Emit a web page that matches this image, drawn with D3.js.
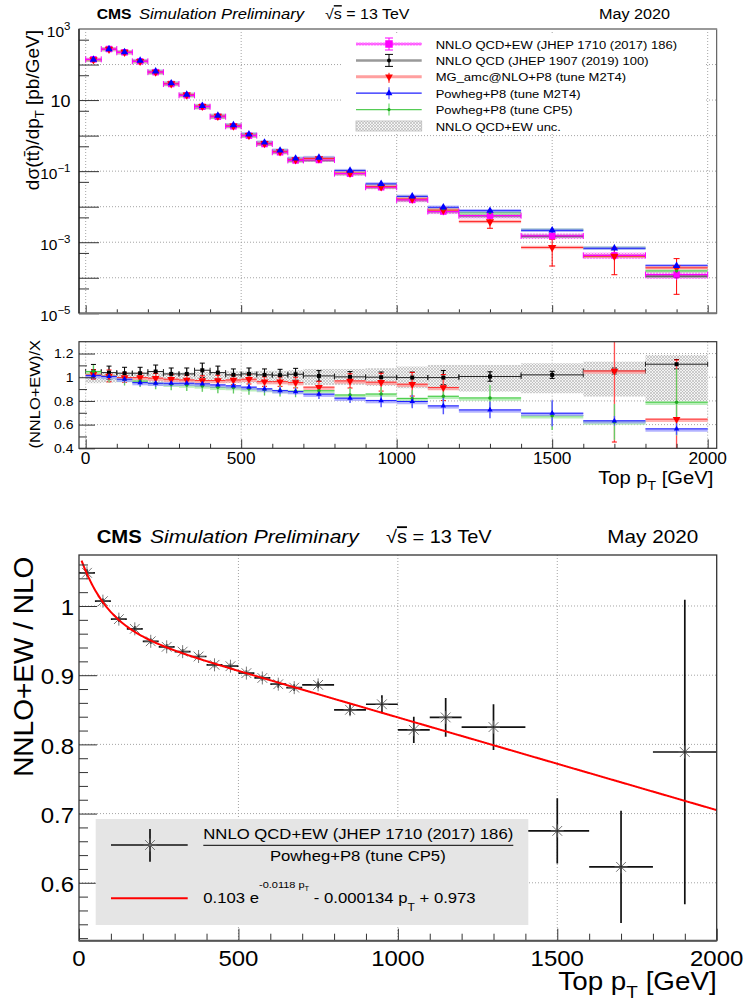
<!DOCTYPE html>
<html><head><meta charset="utf-8">
<script src="https://cdn.jsdelivr.net/npm/d3@7"></script>
<style>
body{margin:0;background:#fff}
svg{display:block}
text{font-family:"Liberation Sans",Arial,Helvetica,sans-serif;white-space:pre}
</style>
</head><body>
<svg id="c" width="746" height="1008"></svg>
<script>
// ---------------- DATA ----------------
const binEdges = [0,50,100,150,200,250,300,350,400,450,500,550,600,650,700,800,900,1000,1100,1200,1400,1600,1800,2000];
// dsigma/dpT [pb/GeV]
const nnloEW  = [140, 273, 221, 123, 61, 28.3, 13.6, 6.5, 3.4, 1.83, 1.0, 0.58, 0.34, 0.20, 0.206, 0.085, 0.0352, 0.0155, 0.0073, 0.00559, 0.0015, 0.000427, 0.000123];
const nnloQCD = [133.6, 262.8, 213.7, 119, 58.2, 27.5, 13.23, 6.14, 3.27, 1.794, 0.973, 0.569, 0.334, 0.195, 0.204, 0.0847, 0.0352, 0.01555, 0.00732, 0.00556, 0.00147, 0.000406, 0.000111];
const mgM2T4  = [136.6, 270, 221.7, 123.4, 61.5, 28.8, 13.92, 6.69, 3.5, 1.873, 1.017, 0.602, 0.353, 0.2094, 0.2249, 0.0877, 0.03674, 0.01647, 0.008, 0.0038, 0.000714, 0.000406, 0.00019];
const powM2T4 = [138.1, 271.4, 224.8, 128.8, 64.3, 29.8, 14.33, 6.89, 3.64, 1.974, 1.092, 0.643, 0.383, 0.2275, 0.2404, 0.1033, 0.0438, 0.0195, 0.00963, 0.00772, 0.00216, 0.000676, 0.000218];
const powCP5  = [133.6, 271.1, 225.3, 127.2, 64.3, 30.1, 14.56, 7.01, 3.72, 2.004, 1.107, 0.647, 0.383, 0.2268, 0.2325, 0.1, 0.041, 0.01888, 0.0087, 0.00678, 0.00222, 0.000685, 0.000156];
const topErrMG = [0.03,0.03,0.03,0.03,0.03,0.03,0.03,0.03,0.03,0.03,0.03,0.04,0.04,0.04,0.05,0.05,0.08,0.1,0.1,0.35,0.7,0.7,0.82];
// NNLO QCD+EW uncertainty (relative, up / down)
const uncUp = [0.048,0.045,0.04,0.04,0.04,0.04,0.04,0.045,0.045,0.05,0.05,0.055,0.055,0.06,0.07,0.07,0.076,0.09,0.104,0.104,0.118,0.132,0.188];
const uncDn = [0.05,0.045,0.04,0.04,0.04,0.04,0.04,0.045,0.045,0.05,0.05,0.055,0.055,0.06,0.065,0.065,0.073,0.093,0.107,0.121,0.135,0.163,0.205];
// ratios (NNLO+EW)/X
const ratioQCD  = [1.048,1.039,1.034,1.034,1.048,1.028,1.028,1.059,1.039,1.02,1.028,1.02,1.017,1.025,1.011,1.003,1.0,0.997,0.997,1.006,1.02,1.053,1.11];
const ratioMG   = [1.025,1.011,0.997,0.997,0.992,0.983,0.977,0.972,0.972,0.977,0.983,0.963,0.963,0.955,0.916,0.969,0.958,0.941,0.913,1.47,2.1,1.053,0.646];
const ratioM2T4 = [1.014,1.006,0.983,0.955,0.949,0.949,0.949,0.944,0.935,0.927,0.916,0.902,0.887,0.879,0.857,0.823,0.803,0.795,0.758,0.724,0.696,0.632,0.564];
const ratioCP5  = [1.048,1.007,0.981,0.967,0.949,0.941,0.934,0.927,0.915,0.913,0.903,0.896,0.887,0.882,0.886,0.850,0.858,0.821,0.839,0.825,0.675,0.623,0.789];
const errQCD  = [0.06,0.055,0.05,0.05,0.055,0.05,0.05,0.06,0.055,0.05,0.05,0.05,0.05,0.05,0.045,0.045,0.044,0.046,0.06,0.04,0.03,0.025,0.04];
const errMG   = [0.04,0.05,0.04,0.04,0.04,0.04,0.04,0.04,0.045,0.04,0.04,0.04,0.04,0.045,0.05,0.06,0.075,0.1,0.11,0.15,0.6,0.6,0.5];
const errM2T4 = [0.03,0.03,0.03,0.03,0.03,0.03,0.03,0.03,0.03,0.03,0.03,0.03,0.03,0.03,0.04,0.04,0.056,0.056,0.07,0.07,0.11,0.04,0.05];
const errCP5  = [0.055,0.05,0.05,0.05,0.05,0.05,0.05,0.05,0.05,0.05,0.05,0.05,0.05,0.05,0.05,0.06,0.06,0.07,0.08,0.11,0.12,0.15,0.28];
// bottom panel: NNLO QCD+EW / Powheg+P8 (CP5) uses ratioCP5 with these errors
const errBottom = [0.005,0.004,0.004,0.004,0.004,0.004,0.004,0.004,0.004,0.004,0.004,0.004,0.005,0.005,0.005,0.008,0.013,0.019,0.028,0.033,0.047,0.081,0.22];
// fit: A*exp(B*pT) + C*pT + D
const fitA = 0.103, fitB = -0.0118, fitC = -0.000134, fitD = 0.973;
// ticks
const xTickVals = [0,500,1000,1500,2000];
const xTickLabels = ["0","500","1000","1500","2000"];
const topYTickVals = [1e3,10,1e-1,1e-3,1e-5];
const topYTickLabels = [["10","3"],["10",null],["10","\u22121"],["10","\u22123"],["10","\u22125"]];
const ratioYTickVals = [0.4,0.6,0.8,1,1.2];
const ratioYTickLabels = ["0.4","0.6","0.8","1","1.2"];
const botYTickVals = [0.6,0.7,0.8,0.9,1];
const botYTickLabels = ["0.6","0.7","0.8","0.9","1"];
const legendTop = ["NNLO QCD+EW (JHEP 1710 (2017) 186)","NNLO QCD (JHEP 1907 (2019) 100)","MG_amc@NLO+P8 (tune M2T4)","Powheg+P8 (tune M2T4)","Powheg+P8 (tune CP5)","NNLO QCD+EW unc."];

// ---------------- LAYOUT ----------------
const svg = d3.select("#c");
const defs = svg.append("defs");
const F1 = {x0:79, x1:716.7, y0:29, y1:313.3};
const F2 = {x0:79, x1:716.7, y0:341.7, y1:448.3};
const F3 = {x0:79, x1:716.7, y0:555, y1:940.7};

const xTop = d3.scaleLinear().domain([-21.5, 2029]).range([F1.x0, F1.x1]);
const yTop = d3.scaleLog().domain([1e-5, 1e3]).range([F1.y1, F1.y0]);
const yRat = d3.scaleLinear().domain([0.4, 1.3]).range([F2.y1, F2.y0]);
const xBot = d3.scaleLinear().domain([0, 2000]).range([F3.x0, F3.x1]);
const yBot = d3.scaleLinear().domain([0.5163, 1.0737]).range([F3.y1, F3.y0]);

function clip(id, f){ defs.append("clipPath").attr("id",id).append("rect").attr("x",f.x0).attr("y",f.y0).attr("width",f.x1-f.x0).attr("height",f.y1-f.y0); }
clip("c1",F1); clip("c2",F2); clip("c3",F3);

function hatch(id, bg, fg){
  const p = defs.append("pattern").attr("id",id).attr("width",3).attr("height",3).attr("patternUnits","userSpaceOnUse");
  p.append("rect").attr("width",3).attr("height",3).attr("fill",bg);
  p.append("path").attr("d","M0,3L3,0M0,0L3,3").attr("stroke",fg).attr("stroke-width",0.6);
}
hatch("hgray","#f4f4f4","#b0b0b0");
hatch("hmag","#ffd0ff","#ff55ff");

function txt(g, x, y, parts, o={}){
  const t = g.append("text")
    .attr("transform", `translate(${x},${y})` + (o.rot ? ` rotate(${o.rot})` : "") + ` scale(1,${o.sy ?? 0.9})`)
    .attr("font-size", o.size || 14).attr("text-anchor", o.anchor || "start")
    .attr("font-weight", o.weight || "normal").attr("font-style", o.style || "normal")
    .attr("fill", o.fill || "#000");
  if (typeof parts === "string") parts = [{s:parts}];
  let prev = 0;
  parts.forEach(p => {
    const sh = p.shift || 0;
    const ts = t.append("tspan").text(p.s).attr("dy", sh - prev);
    if (p.size) ts.attr("font-size", p.size);
    if (p.over) ts.style("text-decoration","overline");
    prev = sh;
  });
  return t;
}
function grid(g, f, xs, ys, xsc, ysc){
  xs.forEach(v => g.append("line").attr("x1",xsc(v)).attr("x2",xsc(v)).attr("y1",f.y0).attr("y2",f.y1));
  ys.forEach(v => g.append("line").attr("x1",f.x0).attr("x2",f.x1).attr("y1",ysc(v)).attr("y2",ysc(v)));
  g.attr("stroke","#9a9a9a").attr("stroke-width",0.9).attr("stroke-dasharray","1,2");
}
function tickAxis(sel, axis){
  sel.call(axis);
  sel.select(".domain").remove();
  sel.selectAll(".tick text").remove();
  sel.selectAll(".tick line").attr("stroke","#333").attr("stroke-width",1);
}
const nb = nnloEW.length;
const bins = d3.range(nb).map(i => ({i, x0:binEdges[i], x1:binEdges[i+1], xc:(binEdges[i]+binEdges[i+1])/2}));
const tri = d3.symbol().type(d3.symbolTriangle);
function mk(g, type, x, y, s, col){
  if (type==="square" || type==="dot") g.append("rect").attr("x",x-s/2).attr("y",y-s/2).attr("width",s).attr("height",s).attr("fill",col);
  else if (type==="small") g.append("circle").attr("cx",x).attr("cy",y).attr("r",s).attr("fill",col);
  else if (type==="tup") g.append("path").attr("d",tri.size(s)()).attr("transform",`translate(${x},${y})`).attr("fill",col);
  else if (type==="tdown") g.append("path").attr("d",tri.size(s)()).attr("transform",`translate(${x},${y}) rotate(180)`).attr("fill",col);
}

// ================= TOP PANEL =================
svg.append("rect").attr("x",0).attr("y",0).attr("width",746).attr("height",1008).attr("fill","#fff");
grid(svg.append("g"), F1, xTickVals, [1e-4,1e-3,1e-2,1e-1,1,10,100], xTop, yTop);

const g1 = svg.append("g").attr("clip-path","url(#c1)");
const topSeries = [
  {vals:nnloQCD, rel:bins.map(b=>errQCD[b.i]/ratioQCD[b.i]), line:"#444", band:"#9a9a9a", mkT:"dot", mkS:4, col:"#000", caps:true},
  {vals:powCP5,  rel:bins.map(b=>errCP5[b.i]/ratioCP5[b.i]), line:"#44cc44", band:"#a8eaa8", mkT:"small", mkS:1.6, col:"#22aa22"},
  {vals:powM2T4, rel:bins.map(b=>errM2T4[b.i]/ratioM2T4[b.i]), line:"#2020ff", band:"#a0a0ff", mkT:"tup", mkS:24, col:"#0000ff"},
  {vals:mgM2T4,  rel:topErrMG, line:"#ff2020", band:"#ff9f9f", mkT:"tdown", mkS:30, col:"#ff0000", caps:true},
];
bins.forEach(b => {
  const v = nnloEW[b.i];
  g1.append("rect").attr("x",xTop(b.x0)).attr("width",xTop(b.x1)-xTop(b.x0))
    .attr("y",yTop(v*(1+uncUp[b.i]))-0.8).attr("height",yTop(v*(1-uncDn[b.i]))-yTop(v*(1+uncUp[b.i]))+1.6)
    .attr("fill","url(#hmag)");
});
topSeries.forEach(s => {
  bins.forEach(b => {
    const y = yTop(s.vals[b.i]);
    g1.append("line").attr("x1",xTop(b.x0)).attr("x2",xTop(b.x1)).attr("y1",y).attr("y2",y).attr("stroke",s.band).attr("stroke-width",3.5).attr("opacity",0.7);
    g1.append("line").attr("x1",xTop(b.x0)).attr("x2",xTop(b.x1)).attr("y1",y).attr("y2",y).attr("stroke",s.line).attr("stroke-width",1);
  });
});
bins.forEach(b => {
  const y = yTop(nnloEW[b.i]);
  g1.append("line").attr("x1",xTop(b.x0)).attr("x2",xTop(b.x1)).attr("y1",y).attr("y2",y).attr("stroke","#ff00ff").attr("stroke-width",1.2);
  [b.x0,b.x1].forEach(e => g1.append("line").attr("x1",xTop(e)).attr("x2",xTop(e)).attr("y1",y-3).attr("y2",y+3).attr("stroke","#ff00ff").attr("stroke-width",1));
});
topSeries.forEach(s => {
  bins.forEach(b => {
    const v = s.vals[b.i], x = xTop(b.xc);
    const ya = yTop(v*(1+s.rel[b.i])), yb = yTop(v*(1-s.rel[b.i]));
    g1.append("line").attr("x1",x).attr("x2",x).attr("y1",ya).attr("y2",yb).attr("stroke",s.col).attr("stroke-width",1);
    if (s.caps) [ya,yb].forEach(yy => g1.append("line").attr("x1",x-3).attr("x2",x+3).attr("y1",yy).attr("y2",yy).attr("stroke",s.col).attr("stroke-width",1));
  });
});
bins.forEach(b => {
  const v = nnloEW[b.i], x = xTop(b.xc);
  const ya = yTop(v*(1+uncUp[b.i])), yb = yTop(v*(1-uncDn[b.i]));
  g1.append("line").attr("x1",x).attr("x2",x).attr("y1",ya-2).attr("y2",yb+2).attr("stroke","#ff00ff").attr("stroke-width",1);
});
const mkOrder = [topSeries[0], null, topSeries[3], topSeries[1], topSeries[2]];
mkOrder.forEach(s => {
  bins.forEach(b => {
    const x = xTop(b.xc);
    if (s === null) mk(g1, "square", x, yTop(nnloEW[b.i]), 6.5, "#ff00ff");
    else mk(g1, s.mkT, x, yTop(s.vals[b.i]), s.mkS, s.col);
  });
});

// legend
const lg = svg.append("g");
lg.append("rect").attr("x",342).attr("y",33).attr("width",363).attr("height",101).attr("fill","#fff");
const rows = [44, 60.4, 76.8, 93.2, 109.6, 126];
const lx0 = 356, lx1 = 421.7, lmx = 389;
lg.append("rect").attr("x",lx0).attr("y",rows[0]-2).attr("width",lx1-lx0).attr("height",4).attr("fill","url(#hmag)").attr("opacity",0.6);
lg.append("line").attr("x1",lx0).attr("x2",lx1).attr("y1",rows[0]).attr("y2",rows[0]).attr("stroke","#ff00ff").attr("stroke-width",1.2);
lg.append("line").attr("x1",lmx).attr("x2",lmx).attr("y1",rows[0]-6).attr("y2",rows[0]+6).attr("stroke","#ff00ff");
[rows[0]-6,rows[0]+6].forEach(yy=>lg.append("line").attr("x1",lmx-4).attr("x2",lmx+4).attr("y1",yy).attr("y2",yy).attr("stroke","#ff00ff"));
mk(lg,"square",lmx,rows[0],7.5,"#ff00ff");
lg.append("line").attr("x1",lx0).attr("x2",lx1).attr("y1",rows[1]).attr("y2",rows[1]).attr("stroke","#999").attr("stroke-width",2.5);
lg.append("line").attr("x1",lmx).attr("x2",lmx).attr("y1",rows[1]-6).attr("y2",rows[1]+6).attr("stroke","#000");
[rows[1]-6,rows[1]+6].forEach(yy=>lg.append("line").attr("x1",lmx-4).attr("x2",lmx+4).attr("y1",yy).attr("y2",yy).attr("stroke","#000"));
mk(lg,"small",lmx,rows[1],2,"#000");
lg.append("line").attr("x1",lx0).attr("x2",lx1).attr("y1",rows[2]).attr("y2",rows[2]).attr("stroke","#ff9f9f").attr("stroke-width",3);
lg.append("line").attr("x1",lmx).attr("x2",lmx).attr("y1",rows[2]-4).attr("y2",rows[2]+6).attr("stroke","#ff0000");
mk(lg,"tdown",lmx,rows[2],26,"#ff0000");
lg.append("line").attr("x1",lx0).attr("x2",lx1).attr("y1",rows[3]).attr("y2",rows[3]).attr("stroke","#2020ff").attr("stroke-width",1.2);
lg.append("line").attr("x1",lmx).attr("x2",lmx).attr("y1",rows[3]-6).attr("y2",rows[3]+6).attr("stroke","#9999ff").attr("stroke-width",2);
mk(lg,"tup",lmx,rows[3],20,"#0000ff");
lg.append("line").attr("x1",lx0).attr("x2",lx1).attr("y1",rows[4]).attr("y2",rows[4]).attr("stroke","#55cc55").attr("stroke-width",1.2);
lg.append("line").attr("x1",lmx).attr("x2",lmx).attr("y1",rows[4]-6).attr("y2",rows[4]+6).attr("stroke","#a8eaa8").attr("stroke-width",2);
mk(lg,"small",lmx,rows[4],1.6,"#22aa22");
lg.append("rect").attr("x",lx0).attr("y",rows[5]-5).attr("width",lx1-lx0).attr("height",10).attr("fill","url(#hgray)").attr("stroke","#bbb").attr("stroke-width",0.8);
legendTop.forEach((t,i) => txt(lg, 435.7, rows[i]+4.6, t, {size:13}));

tickAxis(svg.append("g").attr("transform",`translate(0,${F1.y1})`), d3.axisBottom(xTop).tickValues(d3.range(0,2001,100).filter(v=>v%500)).tickSize(-4).tickFormat(""));
tickAxis(svg.append("g").attr("transform",`translate(0,${F1.y1})`), d3.axisBottom(xTop).tickValues(xTickVals).tickSize(-8).tickFormat(""));
tickAxis(svg.append("g").attr("transform",`translate(${F1.x0},0)`), d3.axisLeft(yTop).tickValues([1e3,1e2,10,1,1e-1,1e-2,1e-3,1e-4,1e-5]).tickSize(-20).tickFormat(""));
tickAxis(svg.append("g").attr("transform",`translate(${F1.x0},0)`), d3.axisLeft(yTop).tickValues([5e2,50,5,0.5,0.05,5e-3,5e-4,5e-5]).tickSize(-10).tickFormat(""));
svg.append("rect").attr("x",F1.x0).attr("y",F1.y0).attr("width",F1.x1-F1.x0).attr("height",F1.y1-F1.y0).attr("fill","none").attr("stroke","#444").attr("stroke-width",1);
svg.append("line").attr("x1",F1.x0).attr("x2",F1.x1).attr("y1",F1.y0).attr("y2",F1.y0).attr("stroke","#999").attr("stroke-width",2);
svg.append("line").attr("x1",F1.x0).attr("x2",F1.x1).attr("y1",F1.y1).attr("y2",F1.y1).attr("stroke","#777").attr("stroke-width",2);
svg.append("line").attr("x1",F1.x0).attr("x2",F1.x0).attr("y1",F1.y0).attr("y2",F1.y1).attr("stroke","#111").attr("stroke-width",1.2);

topYTickVals.forEach((v,i) => {
  const [base, ex] = topYTickLabels[i];
  const y = yTop(v);
  if (ex === null) txt(svg, 70.5, y+7, [{s:base}], {size:18, anchor:"end"});
  else txt(svg, 70.5, y+8, [{s:base},{s:ex,size:11.5,shift:-8}], {size:15.5, anchor:"end"});
});
txt(svg, 38.5, 30, [{s:"d\u03c3(tt\u0304)/dp"},{s:"T",size:13,shift:5},{s:" [pb/GeV]",shift:0}], {size:19, anchor:"end", rot:-90, sy:1});

txt(svg, 96.7, 19.3, "CMS", {size:15.7, weight:"bold"});
txt(svg, 139, 19.3, "Simulation Preliminary", {size:16.6, style:"italic"});
txt(svg, 325, 19.3, [{s:"\u221a"},{s:"s",over:true},{s:" = 13 TeV"}], {size:16});
txt(svg, 599, 19.3, "May 2020", {size:16.2});

// ================= RATIO PANEL =================
grid(svg.append("g"), F2, xTickVals, [0.6,0.8,1,1.2], xTop, yRat);
const g2 = svg.append("g").attr("clip-path","url(#c2)");
bins.forEach(b => {
  g2.append("rect").attr("x",xTop(b.x0)).attr("width",xTop(b.x1)-xTop(b.x0))
    .attr("y",yRat(1+uncUp[b.i])).attr("height",yRat(1-uncDn[b.i])-yRat(1+uncUp[b.i])).attr("fill","url(#hgray)");
});
const ratSeries = [
  {r:ratioQCD, e:errQCD, line:"#222", band:null, mkT:"dot", mkS:4, col:"#000", caps:true, ends:true},
  {r:ratioMG, e:errMG, line:"#ff3030", band:"#ff9f9f", mkT:"tdown", mkS:26, col:"#ff0000", caps:true},
  {r:ratioCP5, e:errCP5, line:"#44cc44", band:"#a8eaa8", mkT:"small", mkS:1.8, col:"#22aa22"},
  {r:ratioM2T4, e:errM2T4, line:"#2020ff", band:"#a0a0ff", mkT:"tup", mkS:13, col:"#0000ff"},
];
ratSeries.forEach(s => {
  bins.forEach(b => {
    const y = yRat(s.r[b.i]);
    if (s.band) g2.append("line").attr("x1",xTop(b.x0)).attr("x2",xTop(b.x1)).attr("y1",y+1).attr("y2",y+1).attr("stroke",s.band).attr("stroke-width",3.5).attr("opacity",0.8);
    g2.append("line").attr("x1",xTop(b.x0)).attr("x2",xTop(b.x1)).attr("y1",y).attr("y2",y).attr("stroke",s.line).attr("stroke-width",1);
    if (s.ends) [b.x0,b.x1].forEach(e => g2.append("line").attr("x1",xTop(e)).attr("x2",xTop(e)).attr("y1",y-2.5).attr("y2",y+2.5).attr("stroke",s.line));
    const x = xTop(b.xc), ya = yRat(s.r[b.i]+s.e[b.i]), yb = yRat(s.r[b.i]-s.e[b.i]);
    g2.append("line").attr("x1",x).attr("x2",x).attr("y1",ya).attr("y2",yb).attr("stroke",s.band ? s.band : s.col).attr("stroke-width",s.band?1.6:1);
    g2.append("line").attr("x1",x).attr("x2",x).attr("y1",ya).attr("y2",yb).attr("stroke",s.col).attr("stroke-width",0.7).attr("opacity",0.8);
    if (s.caps) [ya,yb].forEach(yy => g2.append("line").attr("x1",x-2.5).attr("x2",x+2.5).attr("y1",yy).attr("y2",yy).attr("stroke",s.col));
  });
});
ratSeries.forEach(s => bins.forEach(b => mk(g2, s.mkT, xTop(b.xc), yRat(s.r[b.i]), s.mkS, s.col)));

tickAxis(svg.append("g").attr("transform",`translate(0,${F2.y1})`), d3.axisBottom(xTop).tickValues(d3.range(0,2001,100).filter(v=>v%500)).tickSize(-4.5).tickFormat(""));
tickAxis(svg.append("g").attr("transform",`translate(0,${F2.y1})`), d3.axisBottom(xTop).tickValues(xTickVals).tickSize(-9).tickFormat(""));
tickAxis(svg.append("g").attr("transform",`translate(${F2.x0},0)`), d3.axisLeft(yRat).tickValues(ratioYTickVals).tickSize(-16).tickFormat(""));
tickAxis(svg.append("g").attr("transform",`translate(${F2.x0},0)`), d3.axisLeft(yRat).tickValues([0.5,0.7,0.9,1.1]).tickSize(-8).tickFormat(""));
svg.append("rect").attr("x",F2.x0).attr("y",F2.y0).attr("width",F2.x1-F2.x0).attr("height",F2.y1-F2.y0).attr("fill","none").attr("stroke","#333").attr("stroke-width",1.2);
ratioYTickVals.forEach((v,i) => txt(svg, 73.5, yRat(v)+4.8, ratioYTickLabels[i], {size:14, anchor:"end"}));
xTickVals.forEach((v,i) => txt(svg, xTop(v), 464, xTickLabels[i], {size:17.3, anchor:"middle"}));
txt(svg, 713.3, 484, [{s:"Top p"},{s:"T",size:14,shift:7},{s:" [GeV]",shift:0}], {size:20.2, anchor:"end"});
txt(svg, 39.5, 340, "(NNLO+EW)/X", {size:16.5, anchor:"end", rot:-90, sy:0.92});

// ================= BOTTOM PANEL =================
grid(svg.append("g"), F3, [500,1000,1500], botYTickVals, xBot, yBot);
const g3 = svg.append("g").attr("clip-path","url(#c3)");
function asterisk(g, x, y, r, col){
  const d = r*0.75;
  g.append("path").attr("d",`M${x-r},${y}H${x+r}M${x},${y-r}V${y+r}M${x-d},${y-d}L${x+d},${y+d}M${x-d},${y+d}L${x+d},${y-d}`)
    .attr("stroke",col).attr("stroke-width",0.9).attr("fill","none");
}
bins.forEach(b => {
  const y = yBot(ratioCP5[b.i]), x = xBot(b.xc);
  g3.append("line").attr("x1",xBot(b.x0)).attr("x2",xBot(b.x1)).attr("y1",y).attr("y2",y).attr("stroke","#111").attr("stroke-width",1.7);
  g3.append("line").attr("x1",x).attr("x2",x).attr("y1",yBot(ratioCP5[b.i]+errBottom[b.i])).attr("y2",yBot(ratioCP5[b.i]-errBottom[b.i])).attr("stroke","#111").attr("stroke-width",1.7);
  asterisk(g3, x, y, 6.5, "#666");
  g3.append("circle").attr("cx",x).attr("cy",y).attr("r",1).attr("fill","#222");
});
const fx = d3.range(8, 2000.1, 4);
const fitLine = d3.line().x(d => xBot(d)).y(d => yBot(fitA*Math.exp(fitB*d) + fitC*d + fitD));
g3.append("path").attr("d",fitLine(fx)).attr("fill","none").attr("stroke","#ff0000").attr("stroke-width",2);

tickAxis(svg.append("g").attr("transform",`translate(0,${F3.y1})`), d3.axisBottom(xBot).tickValues(d3.range(0,2001,100).filter(v=>v%500)).tickSize(-7).tickFormat(""));
tickAxis(svg.append("g").attr("transform",`translate(0,${F3.y1})`), d3.axisBottom(xBot).tickValues(xTickVals).tickSize(-12).tickFormat(""));
tickAxis(svg.append("g").attr("transform",`translate(${F3.x0},0)`), d3.axisLeft(yBot).tickValues(botYTickVals).tickSize(-18).tickFormat(""));
tickAxis(svg.append("g").attr("transform",`translate(${F3.x0},0)`), d3.axisLeft(yBot).tickValues(d3.range(26,54).map(k=>k/50).filter(v=>Math.abs(v*10-Math.round(v*10))>1e-6)).tickSize(-9).tickFormat(""));

const lb = svg.append("g");
lb.append("rect").attr("x",95.7).attr("y",819).attr("width",432.6).attr("height",106).attr("fill","#e5e5e5");
lb.append("line").attr("x1",111).attr("x2",187.7).attr("y1",845).attr("y2",845).attr("stroke","#111").attr("stroke-width",1.7);
lb.append("line").attr("x1",150).attr("x2",150).attr("y1",829).attr("y2",861.7).attr("stroke","#111").attr("stroke-width",1.7);
asterisk(lb, 150, 845, 6.5, "#666");
lb.append("line").attr("x1",111).attr("x2",187.7).attr("y1",898.3).attr("y2",898.3).attr("stroke","#ff0000").attr("stroke-width",2);
txt(lb, 203.3, 839.3, "NNLO QCD+EW (JHEP 1710 (2017) 186)", {size:16.7});
lb.append("line").attr("x1",203.3).attr("x2",513.3).attr("y1",845.3).attr("y2",845.3).attr("stroke","#000").attr("stroke-width",1);
txt(lb, 357.8, 860.7, "Powheg+P8 (tune CP5)", {size:16.7, anchor:"middle"});
txt(lb, 203.3, 902.7, [{s:"0.103 e"},{s:"-0.0118 p",size:11,shift:-16},{s:"T",size:7.5,shift:-13.5},{s:" - 0.000134 p",shift:0},{s:"T",size:12,shift:9},{s:" + 0.973",shift:0}], {size:16.7});

svg.append("rect").attr("x",F3.x0).attr("y",F3.y0).attr("width",F3.x1-F3.x0).attr("height",F3.y1-F3.y0).attr("fill","none").attr("stroke","#333").attr("stroke-width",1.3);
svg.append("line").attr("x1",F3.x0).attr("x2",F3.x1).attr("y1",F3.y1).attr("y2",F3.y1).attr("stroke","#555").attr("stroke-width",2);

botYTickVals.forEach((v,i) => txt(svg, 74, yBot(v)+9.3, botYTickLabels[i], {size:24, anchor:"end"}));
xTickVals.forEach((v,i) => txt(svg, xBot(v), 965.5, xTickLabels[i], {size:24, anchor:"middle"}));
txt(svg, 716.7, 990, [{s:"Top p"},{s:"T",size:19,shift:9},{s:" [GeV]",shift:0}], {size:27.8, anchor:"end"});
txt(svg, 33, 556.7, "NNLO+EW / NLO", {size:28, anchor:"end", rot:-90, sy:1});

txt(svg, 96.7, 543.3, "CMS", {size:20.3, weight:"bold"});
txt(svg, 150, 543.3, "Simulation Preliminary", {size:21, style:"italic"});
txt(svg, 386, 543.3, [{s:"\u221a"},{s:"s",over:true},{s:" = 13 TeV"}], {size:20});
txt(svg, 607.3, 543.3, "May 2020", {size:20.7});
</script>
</body></html>
